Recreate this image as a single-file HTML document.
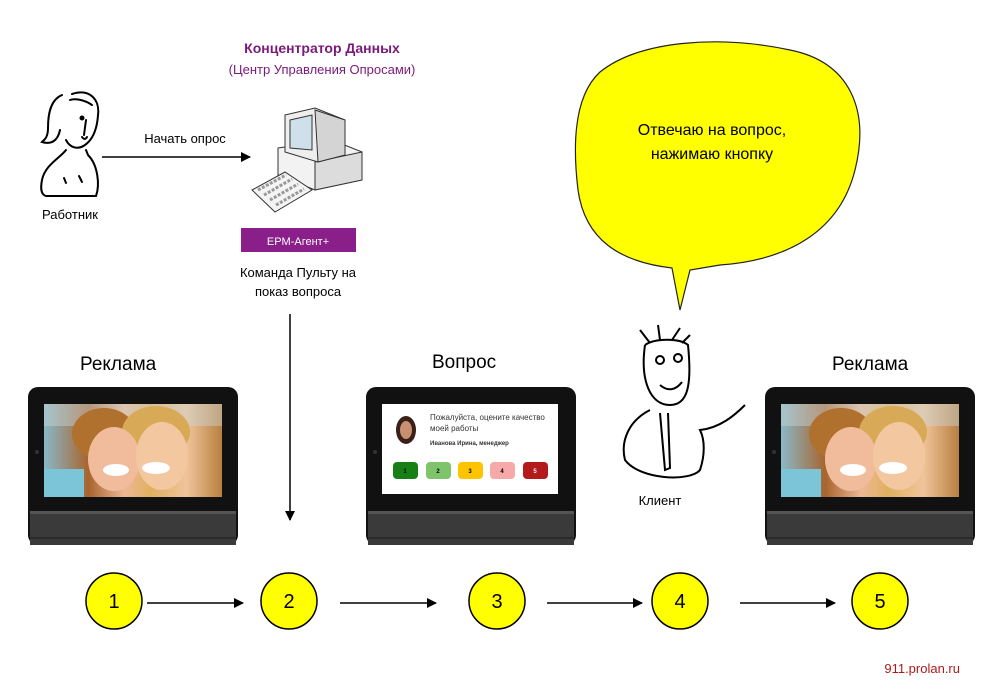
<!DOCTYPE html>
<html><head><meta charset="utf-8"><style>
body{margin:0;background:#fff;width:1000px;height:697px;overflow:hidden}
svg{display:block;font-family:"Liberation Sans",sans-serif}
</style></head><body>
<svg width="1000" height="697" viewBox="0 0 1000 697">
<defs>
<marker id="ar" markerWidth="10" markerHeight="10" refX="9" refY="5" orient="auto" markerUnits="userSpaceOnUse"><path d="M0,0 L10,5 L0,10 z" fill="#000"/></marker>
<linearGradient id="ph" x1="0" x2="1"><stop offset="0" stop-color="#8ab8c8"/><stop offset=".25" stop-color="#a8642e"/><stop offset=".45" stop-color="#eeb894"/><stop offset=".6" stop-color="#e0b060"/><stop offset=".8" stop-color="#f0c49a"/><stop offset="1" stop-color="#b88040"/></linearGradient>
<g id="photo">
<rect x="0" y="0" width="178" height="93" fill="url(#ph)"/>
<rect x="0" y="0" width="178" height="22" fill="#c8d4d8" opacity=".45"/>
<ellipse cx="60" cy="30" rx="32" ry="26" fill="#b0702e"/>
<ellipse cx="112" cy="28" rx="34" ry="26" fill="#d8aa58"/>
<ellipse cx="70" cy="55" rx="26" ry="32" fill="#f0bc9c"/>
<ellipse cx="118" cy="52" rx="26" ry="34" fill="#f3c8a0"/>
<ellipse cx="72" cy="66" rx="13" ry="6" fill="#fff"/>
<ellipse cx="112" cy="64" rx="14" ry="6" fill="#fff"/>
<rect x="0" y="65" width="40" height="28" fill="#7cc4d8"/>
</g>
<g id="dev">
<rect x="0" y="0" width="210" height="158" rx="10" fill="#111"/>
<rect x="2" y="124" width="206" height="34" fill="#3a3a3a"/>
<rect x="2" y="124" width="206" height="3" fill="#555"/>
<rect x="2" y="150" width="206" height="2" fill="#2a2a2a"/>
<circle cx="9" cy="65" r="2" fill="#333"/>
</g>
</defs>

<text x="322" y="53" font-size="14" font-weight="bold" fill="#7a1a7a" text-anchor="middle">Концентратор Данных</text>
<text x="322" y="74" font-size="13" fill="#7a1a7a" text-anchor="middle">(Центр Управления Опросами)</text>

<!-- worker -->
<g fill="none" stroke="#000" stroke-width="2" stroke-linecap="round">
<path d="M62,95 C50,100 48,115 48,128 C48,138 44,140 42,142 C52,145 58,140 60,130"/>
<path d="M72,94 C90,88 100,100 98,115 C97,130 92,140 85,145 C78,150 70,148 66,140"/>
<path d="M70,100 C75,98 85,100 92,105"/>
<circle cx="82" cy="118" r="1.5" fill="#000"/>
<path d="M86,120 L84,135"/>
<path d="M82,137 C84,140 86,139 87,137"/>
<path d="M66,150 C60,158 45,165 42,180 C40,190 42,195 46,196 L96,196 C100,185 98,165 88,155 L86,150"/>
<path d="M64,178 L66,183 M79,176 L82,182"/>
</g>
<text x="70" y="219" font-size="13" text-anchor="middle">Работник</text>
<text x="185" y="143" font-size="13" text-anchor="middle">Начать опрос</text>
<line x1="102" y1="157" x2="250" y2="157" stroke="#000" stroke-width="1.5" marker-end="url(#ar)"/>

<!-- computer -->
<g stroke="#333" stroke-width="1">
<path d="M278,148 L332,140 L362,152 L362,180 L315,190 L278,175 z" fill="#f2f2f2"/>
<path d="M315,162 L362,152 L362,180 L315,190 z" fill="#dcdcdc"/>
<path d="M285,115 L315,108 L345,120 L345,155 L318,162 L285,152 z" fill="#eee"/>
<path d="M290,120 L312,115 L312,150 L290,148 z" fill="#cfe0ea"/>
<path d="M315,110 L345,120 L345,155 L318,162 z" fill="#d4d4d4"/>
<path d="M252,190 L285,172 L312,190 L275,212 z" fill="#f4f4f4"/>
</g>
<path d="M258,190 L286,175 M264,195 L292,179 M270,200 L298,184 M276,205 L304,189" stroke="#999" stroke-width="3" stroke-dasharray="3,1.5"/>

<rect x="241" y="228" width="115" height="24" fill="#8a1f8a"/>
<text x="298" y="245" font-size="11" fill="#fff" text-anchor="middle">EPM-Агент+</text>
<text x="298" y="277" font-size="13" text-anchor="middle">Команда Пульту на</text>
<text x="298" y="296" font-size="13" text-anchor="middle">показ вопроса</text>
<line x1="290" y1="314" x2="290" y2="520" stroke="#000" stroke-width="1.5" marker-end="url(#ar)"/>

<!-- bubble -->
<path d="M600,72 C640,40 720,35 790,50 C850,62 870,110 855,170 C840,230 790,260 720,265 L690,270 L680,310 L672,268 C620,262 585,240 578,190 C572,140 575,95 600,72 z" fill="#ffff00" stroke="#222" stroke-width="1.2"/>
<text x="712" y="135" font-size="16" text-anchor="middle">Отвечаю на вопрос,</text>
<text x="712" y="159" font-size="16" text-anchor="middle">нажимаю кнопку</text>

<!-- client -->
<g fill="none" stroke="#000" stroke-width="2">
<path d="M645,345 C640,380 650,405 670,405 C688,405 692,385 688,345 C680,338 655,338 645,345"/>
<path d="M650,343 L640,330 M660,340 L658,325 M672,340 L680,328 M682,343 L690,335"/>
<circle cx="660" cy="360" r="4"/><circle cx="678" cy="358" r="4"/>
<path d="M660,385 C668,392 676,390 682,382"/>
<path d="M650,410 C630,420 620,440 625,460 C640,480 690,482 700,470 C705,455 705,440 700,430 C720,428 735,415 745,405"/>
<path d="M660,413 L665,470 L670,468 L668,413"/>
</g>
<text x="660" y="505" font-size="13" text-anchor="middle">Клиент</text>

<text x="80" y="370" font-size="19">Реклама</text>
<text x="432" y="368" font-size="19">Вопрос</text>
<text x="832" y="370" font-size="19">Реклама</text>

<use href="#dev" x="28" y="387"/>
<use href="#photo" x="44" y="404"/>
<use href="#dev" x="366" y="387"/>
<rect x="382" y="404" width="176" height="90" fill="#fff"/>
<ellipse cx="406" cy="430" rx="10" ry="14" fill="#3a2018"/>
<ellipse cx="406" cy="430" rx="6" ry="9" fill="#c89070"/>
<text x="430" y="420" font-size="8" fill="#333">Пожалуйста, оцените качество</text>
<text x="430" y="431" font-size="8" fill="#333">моей работы</text>
<text x="430" y="445" font-size="6" font-weight="bold" fill="#333">Иванова Ирина, менеджер</text>
<rect x="393" y="462" width="25" height="17" rx="4" fill="#168016"/>
<rect x="426" y="462" width="25" height="17" rx="4" fill="#7ec46a"/>
<rect x="458" y="462" width="25" height="17" rx="4" fill="#ffc400"/>
<rect x="490" y="462" width="25" height="17" rx="4" fill="#f7a8a8"/>
<rect x="523" y="462" width="25" height="17" rx="4" fill="#b41a1a"/>
<g font-size="6" text-anchor="middle" font-weight="bold"><text x="405" y="473">1</text><text x="438" y="473">2</text><text x="470" y="473">3</text><text x="502" y="473">4</text><text x="535" y="473" fill="#fff">5</text></g>
<use href="#dev" x="765" y="387"/>
<use href="#photo" x="781" y="404"/>

<g fill="#ffff00" stroke="#000" stroke-width="1.5">
<circle cx="114" cy="601" r="28"/><circle cx="289" cy="601" r="28"/><circle cx="497" cy="601" r="28"/><circle cx="680" cy="601" r="28"/><circle cx="880" cy="601" r="28"/>
</g>
<g font-size="20" text-anchor="middle"><text x="114" y="608">1</text><text x="289" y="608">2</text><text x="497" y="608">3</text><text x="680" y="608">4</text><text x="880" y="608">5</text></g>
<g stroke="#000" stroke-width="1.5" marker-end="url(#ar)">
<line x1="147" y1="603" x2="243" y2="603"/><line x1="340" y1="603" x2="436" y2="603"/><line x1="547" y1="603" x2="642" y2="603"/><line x1="740" y1="603" x2="835" y2="603"/>
</g>
<text x="960" y="673" font-size="13" fill="#b01a1a" text-anchor="end">911.prolan.ru</text>
</svg>
</body></html>
